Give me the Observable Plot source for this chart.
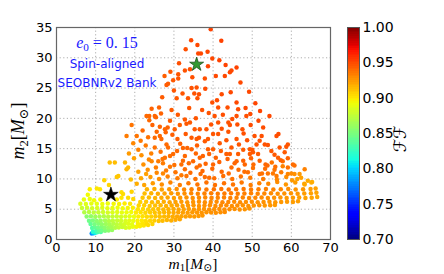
<!DOCTYPE html>
<html><head><meta charset="utf-8">
<script src="https://cdn.jsdelivr.net/npm/d3@7"></script>
<script src="https://cdn.jsdelivr.net/npm/@observablehq/plot@0.6"></script>
<style>
body{margin:0;background:#fff;}
#wrap{position:relative;width:444px;height:274px;}
#wrap svg{position:absolute;left:0;top:0;}
</style></head><body><div id="wrap"></div>
<script>
const xTicks=[0,10,20,30,40,50,60,70];
const yTicks=[0,5,10,15,20,25,30,35];
const ffTicks=[0.70,0.75,0.80,0.85,0.90,0.95,1.00];

// [m1, m2, FF]
const lowMass=[
[9.0,1.0,.78],[9.5,1.05,.79],[9.9,1.1,.81],[9.3,1.3,.82],
[10.4,1.2,.83],[11.3,1.25,.835],[10.2,1.5,.83],[10.9,1.45,.84],[11.6,1.5,.845],[12.4,1.45,.85],[13.3,1.5,.855],[14.2,1.55,.86],
[9.1,1.9,.835],[9.8,2.0,.84],[10.6,1.95,.845],[11.5,2.05,.85],[12.3,1.95,.855],[13.2,2.0,.86],[14.1,2.05,.865],[15.0,1.95,.87],[15.9,2.0,.875],[16.8,2.05,.878],[17.7,1.95,.882],[18.6,2.0,.886],[19.5,2.1,.89],
[8.7,2.55,.84],[9.7,2.5,.848],[10.7,2.6,.852],[11.6,2.5,.857],[12.6,2.55,.862],[13.5,2.5,.866],[14.5,2.6,.87],[15.4,2.5,.874],[16.4,2.55,.878],[17.3,2.5,.882],[18.3,2.6,.886],[19.3,2.5,.889],
[8.3,3.1,.845],[9.3,3.15,.85],[10.3,3.05,.855],[11.3,3.1,.86],[12.4,3.15,.865],[13.4,3.05,.87],[14.4,3.1,.874],[15.5,3.15,.877],[16.5,3.1,.88],[17.6,3.05,.884],[18.6,3.15,.887],[19.6,3.1,.89],
[7.7,3.8,.855],[8.8,3.85,.858],[9.9,3.75,.862],[11.0,3.8,.866],[12.1,3.85,.87],[13.2,3.75,.873],[14.3,3.8,.876],[15.4,3.85,.879],[16.5,3.75,.882],[17.6,3.8,.885],[18.7,3.85,.888],[19.8,3.8,.891],
[7.1,4.5,.87],[8.3,4.55,.872],[9.5,4.45,.874],[10.7,4.5,.877],[11.9,4.55,.88],[13.1,4.45,.882],[14.3,4.5,.885],[15.5,4.55,.887],[16.7,4.45,.889],[17.9,4.5,.891],[19.1,4.55,.893],
[6.5,5.2,.878],[7.8,5.25,.88],[9.1,5.15,.882],[10.4,5.2,.884],[11.7,5.25,.886],[13.0,5.15,.888],[14.3,5.2,.89],[15.6,5.25,.891],[16.9,5.15,.893],[18.2,5.2,.895],[19.5,5.25,.897],
[6.1,5.9,.885],[7.5,5.85,.886],[8.9,5.95,.888],[10.3,5.9,.889],[11.7,5.85,.891],[13.1,5.95,.892],[14.6,5.9,.894],[16.0,5.85,.896],[17.4,5.95,.898],[18.8,5.9,.9],
[7.0,6.6,.89],[8.5,6.7,.892],[9.6,6.5,.893],[11.2,6.6,.895],[15.4,6.6,.898],[16.6,6.9,.9],[18.3,6.9,.903],[19.6,6.7,.905],
[8.0,7.4,.893],[8.5,8.3,.897],[10.3,8.4,.9],[11.1,8.3,.9],[16.6,7.8,.902],[17.0,7.5,.903],[19.2,7.9,.906],
[13.4,9.0,.905],[12.2,9.8,.906],[15.4,10.3,.91],[15.8,10.5,.91],[19.0,9.9,.912],[17.9,11.6,.915],[18.3,11.9,.915],[17.5,12.7,.915],[13.6,12.7,.912],[14.9,12.7,.913]
];

const denseBand=[
[20.4,2.1,.895],[21.3,2.2,.897],[22.3,2.3,.9],[23.4,2.4,.903],[24.5,2.55,.906],[20.8,2.6,.897],[21.9,2.65,.9],[23.0,2.7,.903],
[20.7,3.1,.896],[21.8,3.15,.899],[22.8,3.05,.902],[23.9,3.1,.905],[25.0,3.15,.908],[26.1,3.05,.911],[27.1,3.1,.913],[28.2,3.2,.915],[29.3,3.15,.917],[30.4,3.25,.919],[31.5,3.35,.92],
[20.9,3.8,.898],[22.0,3.85,.901],[23.1,3.75,.904],[24.2,3.8,.907],[25.3,3.85,.91],[26.4,3.75,.912],[27.5,3.8,.914],[28.6,3.85,.916],[29.7,3.75,.918],[30.8,3.8,.92],[31.9,3.85,.921],[33.0,3.8,.922],[34.1,3.85,.923],[35.2,3.8,.924],[36.3,3.9,.924],[37.3,3.95,.925],
[20.3,4.45,.899],[21.5,4.5,.902],[22.7,4.4,.905],[23.9,4.5,.908],[25.1,4.45,.911],[26.3,4.4,.913],[27.5,4.5,.915],[28.7,4.45,.917],[29.9,4.4,.919],[31.1,4.5,.921],[32.3,4.45,.922],[33.5,4.4,.923],[34.7,4.5,.924],[35.9,4.45,.925],[37.1,4.4,.926],[38.3,4.5,.926],[39.5,4.45,.927],[40.7,4.4,.927],[41.9,4.5,.927],[43.0,4.55,.928],
[20.8,5.0,.901],[22.1,5.05,.904],[23.4,4.95,.907],[24.7,5.0,.91],[26.0,5.05,.913],[27.3,4.95,.915],[28.6,5.0,.917],[29.9,5.05,.919],[31.2,4.95,.921],[32.5,5.0,.922],[33.8,5.05,.923],[35.1,4.95,.925],[36.4,5.0,.925],[37.7,5.05,.926],[39.0,4.95,.927],[40.3,5.0,.927],[41.6,5.05,.928],[42.9,4.95,.928],[44.2,5.0,.928],[45.5,5.05,.927],[46.8,4.95,.927],[48.1,5.0,.926],[49.3,5.1,.926],
[21.0,5.6,.905],[22.4,5.65,.907],[23.8,5.55,.91],[25.2,5.6,.912],[26.6,5.65,.915],[28.0,5.55,.917],[29.4,5.6,.919],[30.8,5.65,.921],[32.2,5.55,.923],[33.6,5.6,.924],[35.0,5.65,.925],[36.4,5.55,.926],[37.8,5.6,.927],[39.2,5.65,.928],[40.6,5.55,.928],[42.0,5.6,.929],[43.4,5.65,.929],[44.8,5.55,.928],[46.2,5.6,.928],[47.6,5.65,.927],[49.0,5.55,.927],[50.4,5.6,.926],[51.8,5.65,.926],[53.2,5.6,.925],[54.6,5.65,.925],[55.8,5.7,.924],
[21.4,6.2,.907],[22.9,6.25,.91],[24.4,6.15,.913],[25.9,6.2,.915],[27.4,6.25,.918],[28.9,6.15,.92],[30.4,6.2,.922],[31.9,6.25,.924],[33.4,6.15,.925],[34.9,6.2,.926],[36.4,6.25,.927],[37.9,6.15,.928],[39.4,6.2,.929],[40.9,6.25,.929],[42.4,6.15,.93],[43.9,6.2,.93],[45.4,6.25,.929],[46.9,6.15,.929],[48.4,6.2,.928],[49.9,6.25,.928],[51.4,6.15,.927],[52.9,6.2,.927],[54.4,6.25,.926],[55.9,6.15,.925],[57.4,6.2,.925],[58.9,6.25,.924],[60.4,6.2,.923],[61.7,6.3,.923],
[22.0,6.9,.91],[23.6,6.95,.913],[25.2,6.85,.916],[26.8,6.9,.919],[28.4,6.95,.921],[30.0,6.85,.923],[31.6,6.9,.925],[33.2,6.95,.927],[34.8,6.85,.928],[36.4,6.9,.929],[38.0,6.95,.93],[39.6,6.85,.931],[41.2,6.9,.931],[42.8,6.95,.932],[44.4,6.85,.932],[46.0,6.9,.931],[47.6,6.95,.931],[49.2,6.85,.93],[50.8,6.9,.93],[52.4,6.95,.929],[54.0,6.85,.928],[55.6,6.9,.927],[57.2,6.95,.926],[58.8,6.85,.925],[60.4,6.9,.924],[62.0,6.95,.923],[63.6,6.85,.922],[65.2,6.9,.921],[66.6,7.0,.92],
[22.5,7.6,.913],[24.2,7.65,.916],[25.9,7.55,.919],[27.6,7.6,.922],[29.3,7.65,.924],[31.0,7.55,.926],[32.7,7.6,.928],[34.4,7.65,.93],[36.1,7.55,.931],[37.8,7.6,.932],[39.5,7.65,.933],[41.2,7.55,.934],[42.9,7.6,.934],[44.6,7.65,.934],[46.3,7.55,.933],[48.0,7.6,.933],[49.7,7.65,.932],[51.4,7.55,.931],[53.1,7.6,.93],[54.8,7.65,.929],[56.5,7.55,.928],[58.2,7.6,.927],[59.9,7.65,.926],[61.6,7.55,.925],[63.3,7.6,.923],[65.0,7.65,.922],[66.4,7.7,.921],
[23.1,8.3,.916],[25.0,8.35,.919],[26.9,8.25,.922],[28.8,8.3,.925],[30.7,8.35,.928],[32.6,8.25,.93],[34.5,8.3,.932],[36.4,8.35,.934],[38.3,8.25,.935],[40.2,8.3,.936],[42.1,8.35,.936],[44.0,8.25,.936],[45.9,8.3,.935],[47.8,8.35,.935],[49.7,8.25,.934],[51.6,8.3,.933],[53.5,8.35,.932],[55.4,8.25,.931],[57.3,8.3,.93],[59.2,8.35,.928],[61.1,8.25,.926],[63.0,8.3,.925],[64.9,8.35,.923],[66.2,8.4,.922]
];

const middle=[
[20.5,9.2,.918],[22.4,9.0,.921],[24.6,9.3,.924],[26.9,9.1,.928],[29.1,9.4,.931],[31.5,9.0,.933],[33.7,9.3,.935],[36.0,9.1,.936],[38.3,9.4,.937],[40.5,9.0,.937],[42.8,9.3,.937],[45.1,9.1,.936],[47.3,9.4,.935],[49.6,9.0,.933],[51.8,9.3,.932],[54.1,9.2,.93],[56.4,9.5,.928],[58.6,9.1,.925],[61.0,9.4,.923],[63.3,9.2,.92],[65.3,9.5,.918],
[21.6,10.1,.92],[24.0,10.3,.924],[26.2,10.0,.928],[28.4,10.4,.932],[30.9,10.1,.934],[33.2,10.5,.936],[35.5,10.0,.937],[37.9,10.3,.938],[40.3,10.1,.938],[42.6,10.5,.938],[44.9,10.0,.937],[47.1,10.4,.936],[49.5,10.2,.934],[61.5,10.0,.922],[64.2,9.7,.919],[65.1,9.4,.918],[63.4,9.1,.92],
[22.9,10.8,.922],[27.2,10.9,.93],[31.9,10.6,.935],[36.8,10.8,.938],[39.0,10.2,.938],[44.0,10.9,.939],[48.0,11.2,.938],[53.3,11.7,.938],[52.8,10.0,.934],[56.3,9.9,.93],[58.7,10.3,.928],[60.2,9.8,.924],
[20.9,11.2,.922],[23.3,11.5,.927],[25.6,11.0,.93],[28.0,11.4,.934],[30.4,11.1,.936],[32.8,11.6,.938],[34.2,11.0,.939],[37.3,11.3,.94],[39.8,11.7,.94],[42.2,11.2,.94],[46.5,11.5,.939],[50.2,11.8,.937],
[22.2,12.4,.927],[24.3,12.9,.93],[27.2,12.6,.934],[30.1,12.3,.937],[33.8,12.6,.939],[38.1,12.5,.941],[41.6,12.8,.942],[45.5,12.6,.941],[50.3,12.4,.939],[55.0,12.7,.936],[57.8,12.1,.932],
[26.0,12.9,.934],[29.0,12.0,.935],[34.9,12.9,.94],[40.0,12.4,.941],[43.7,13.3,.942],[46.0,12.9,.941],[49.7,13.4,.942],[55.9,12.0,.938],[57.8,12.9,.939],
[19.8,13.4,.922],[21.7,13.9,.927],[23.6,13.2,.93],[20.9,14.8,.932],[22.8,15.5,.934],[24.2,14.2,.932],[21.5,16.3,.935],[23.4,16.9,.937],[19.6,15.9,.93],[18.5,14.2,.924],
[26.6,14.5,.937],[30.8,14.6,.94],[35.6,14.2,.941],[42.0,14.6,.943],[47.7,14.8,.944],[55.7,14.0,.945],
[31.6,15.8,.942],[35.9,15.5,.943],[41.7,15.9,.945],[44.7,15.2,.945],[48.7,16.4,.947],[30.9,16.6,.943],[29.6,17.3,.943],[33.0,17.4,.945],[47.8,17.5,.948],[42.2,18.3,.947],
[25.1,16.8,.939],[26.4,17.1,.94],[26.8,16.6,.94],[34.5,16.8,.944],[35.8,16.6,.944],[36.4,16.8,.945],[37.9,16.2,.944],[38.7,16.6,.945],[43.4,16.4,.946],[46.0,16.6,.946],[46.6,15.7,.946],[51.9,16.3,.947],[51.1,15.7,.946],[53.2,15.7,.947],[54.0,15.6,.947],
[25.1,15.2,.937],[28.1,15.7,.939],[28.5,15.2,.939],[32.3,15.1,.941],[33.4,15.1,.941],[34.5,14.9,.942],[38.7,14.9,.943],[40.0,14.9,.943],[43.4,14.1,.943],[44.3,14.1,.943],[46.4,14.1,.944],[49.4,14.1,.944],[50.2,14.4,.945],
[29.0,13.8,.938],[29.8,14.1,.939],[27.7,13.5,.937],[27.1,13.3,.936],[32.8,13.8,.94],[32.3,13.0,.939],[31.9,12.4,.938],[36.6,13.5,.941],[37.4,13.8,.942],[39.0,14.1,.942],[40.7,13.5,.942],[47.7,13.0,.942],[48.1,12.4,.941],[51.9,13.0,.942],[53.4,12.4,.941],
[25.4,11.9,.933],[35.8,11.9,.938],[36.6,12.2,.939],[44.7,11.9,.939],
[57.0,15.2,.946],[58.7,15.3,.946],[59.1,15.7,.946],[49.4,14.9,.945],[50.0,14.8,.945],[51.5,14.1,.944],[54.9,14.6,.945],[58.3,14.4,.944],[56.6,13.5,.943],[57.3,13.1,.942],[59.1,13.4,.942],
[53.9,12.2,.94],[60.4,12.4,.939],[60.8,12.2,.938],[59.1,11.9,.937],[63.4,11.6,.932],[48.9,11.1,.938],[51.9,10.8,.937],[52.5,10.9,.937],[54.0,10.9,.936],[55.7,11.5,.936],[55.3,10.9,.935],[56.2,10.5,.934],[57.4,11.1,.934],[59.1,10.8,.931],[60.0,10.9,.929],[60.8,10.8,.927],[62.1,10.8,.924],[62.5,10.2,.922]
];

const upperSparse=[
[39.4,34.7,.952],[34.4,32.9,.95],[36.0,32.1,.95],[42.1,32.8,.952],[33.0,31.4,.948],[36.2,30.7,.95],[36.9,30.7,.95],[38.6,31.0,.95],[39.8,29.9,.95],[31.3,29.1,.948],[34.1,28.1,.948],[43.2,28.8,.952],[44.7,27.9,.95],[44.3,27.6,.95],[46.0,28.4,.952],
[38.7,28.6,.951],[41.6,29.6,.952],[34.7,26.8,.948],[32.8,27.9,.947],
[29.1,27.7,.945],[27.6,27.0,.943],[31.1,27.3,.946],[31.1,26.6,.946],[37.9,26.6,.948],[40.7,27.0,.95],[43.0,27.0,.95],[28.5,25.7,.944],[28.1,25.5,.944],[29.8,26.3,.945],[47.0,25.9,.95],[34.5,25.0,.947],[35.8,25.1,.947],
[30.0,24.6,.946],[38.0,24.9,.949],[44.5,24.3,.95],[27.0,23.5,.944],[24.3,21.6,.942],[50.8,22.5,.951],[52.0,21.2,.951],
[32.2,24.1,.946],[35.2,24.1,.947],[36.4,24.0,.948],[36.0,23.3,.947],[33.6,23.3,.946],[30.7,23.3,.945],[39.8,22.6,.948],[41.0,23.0,.949],[46.0,22.6,.95],[49.2,24.4,.95],[42.2,24.0,.949],
[26.2,21.8,.942],[26.7,20.8,.942],[29.4,21.4,.944],[37.2,21.4,.947],[41.3,21.8,.948],[43.7,21.8,.948],[46.4,21.5,.949],[48.3,21.7,.95],[33.9,21.7,.946],[31.0,20.6,.945],
[23.0,20.4,.94],[23.7,20.4,.94],[25.1,20.4,.941],[25.4,20.2,.941],[23.7,19.7,.94],[32.8,19.8,.945],[35.6,20.0,.946],[40.4,20.4,.947],[46.0,20.4,.948],[48.5,20.4,.948],[49.5,20.7,.949],[54.4,20.4,.95],
[38.9,20.9,.947],[42.5,20.6,.948],[44.9,19.9,.948],[39.5,19.0,.947],[46.2,19.0,.948],[49.6,18.9,.949],[51.6,19.6,.95],[52.8,18.5,.949],[29.0,19.6,.944],[24.5,18.9,.942],[22.0,18.0,.94],
[19.2,18.9,.936],[28.4,18.5,.942],[30.2,18.2,.943],[26.4,18.6,.941],[25.6,17.8,.94],[31.5,18.9,.943],[33.2,19.1,.945],[34.1,19.3,.945],[35.3,18.2,.945],[36.6,18.2,.945],[38.3,18.2,.946],
[43.9,19.3,.947],[44.3,18.9,.947],[43.9,17.8,.946],[47.5,18.2,.947],[41.3,19.3,.947],[40.0,17.4,.946],[27.7,18.2,.941],[27.9,17.7,.941],[17.9,17.1,.934],[20.5,17.1,.936],
[52.4,17.1,.948],[56.2,17.1,.948],[56.7,17.4,.949],[50.6,17.1,.947],[41.3,17.4,.946]
];

const blackStar=[{m1:13.9,m2:7.4}];
const greenStar=[{m1:35.8,m2:28.9}];

// matplotlib "jet"
const jetR=[[0,0],[0.35,0],[0.66,1],[0.89,1],[1,0.5]];
const jetG=[[0,0],[0.125,0],[0.375,1],[0.64,1],[0.91,0],[1,0]];
const jetB=[[0,0.5],[0.11,1],[0.34,1],[0.65,0],[1,0]];
function seg(s,t){
  for(let i=1;i<s.length;i++){
    if(t<=s[i][0]){const [x0,y0]=s[i-1],[x1,y1]=s[i];return y0+(y1-y0)*(t-x0)/(x1-x0);}
  }
  return s[s.length-1][1];
}
function jet(t){
  t=Math.max(0,Math.min(1,t));
  return d3.rgb(255*seg(jetR,t),255*seg(jetG,t),255*seg(jetB,t)).formatHex();
}

const points=[...lowMass,...denseBand,...middle,...upperSparse].map(([m1,m2,ff])=>({m1,m2,ff}));
const colorScale={type:"linear",domain:[0.7,1.0],interpolate:jet,clamp:true};
const baseStyle={fontFamily:"DejaVu Sans",fontSize:"13px",background:"transparent",color:"black",overflow:"visible"};

const main=Plot.plot({
  width:444,height:274,marginLeft:56,marginRight:114,marginTop:27,marginBottom:35,
  style:baseStyle,
  x:{domain:[0,70]},
  y:{domain:[0,35]},
  color:colorScale,
  marks:[
    Plot.gridX(xTicks,{stroke:"#999",strokeOpacity:1,strokeDasharray:"1.2,2.4",strokeWidth:0.8}),
    Plot.gridY(yTicks,{stroke:"#999",strokeOpacity:1,strokeDasharray:"1.2,2.4",strokeWidth:0.8}),
    Plot.dot(points,{x:"m1",y:"m2",fill:"ff",r:2.25,stroke:null}),
    Plot.dot(blackStar,{x:"m1",y:"m2",symbol:"star",r:4.6,fill:"black",stroke:"black",strokeWidth:0.6}),
    Plot.dot(greenStar,{x:"m1",y:"m2",symbol:"star",r:4.4,fill:"#339933",stroke:"#114411",strokeWidth:0.7}),
    Plot.frame({stroke:"#666",strokeWidth:1.2}),
    Plot.axisX({ticks:xTicks,tickSize:0,tickPadding:3,label:null,fontSize:13}),
    Plot.axisY({ticks:yTicks,tickSize:0,tickPadding:4,label:null,fontSize:13})
  ]
});

const cbStep=0.0025;
const cbStops=d3.range(0.7,1.0-1e-9,cbStep);
const bar=Plot.plot({
  width:444,height:274,marginLeft:347,marginRight:85,marginTop:27,marginBottom:35,
  style:baseStyle,
  x:{domain:[0,1],axis:null},
  y:{domain:[0.7,1.0]},
  color:colorScale,
  marks:[
    Plot.rect(cbStops,{x1:0,x2:1,y1:d=>d,y2:d=>Math.min(1,d+cbStep*1.3),fill:d=>d+cbStep/2,shapeRendering:"crispEdges"}),
    Plot.frame({stroke:"#555",strokeWidth:1}),
    Plot.axisY({anchor:"right",ticks:ffTicks,tickFormat:d3.format(".2f"),tickSize:0,tickPadding:3,label:null,fontSize:14})
  ]
});

const wrap=document.getElementById("wrap");
wrap.appendChild(main);
wrap.appendChild(bar);

const svg=d3.select(main);
const mathFont="'Liberation Serif','DejaVu Serif',serif";
function mathLabel(sel,parts,size,shift){
  let shifted=false;
  parts.forEach(([txt,it,sub])=>{
    const ts=sel.append("tspan").text(txt);
    if(it) ts.style("font-style","italic");
    if(sub){ts.style("font-size",(size*0.7)+"px"); if(!shifted){ts.attr("dy",size*shift);shifted=true;}}
    else if(shifted){ts.attr("dy",-size*shift);shifted=false;}
  });
}
// x label
const xl=svg.append("text").attr("x",193).attr("y",268.5).attr("text-anchor","middle")
  .style("font-family",mathFont).style("font-size","15.5px").attr("fill","black");
mathLabel(xl,[["m",1,0],["1",0,1],["[",0,0],["M",1,0],["\u2299",0,1],["]",0,0]],15.5,0.15);
// y label
const yl=svg.append("text").attr("transform","translate(24,131) rotate(-90)").attr("text-anchor","middle")
  .style("font-family",mathFont).style("font-size","18px").attr("fill","black");
mathLabel(yl,[["m",1,0],["2",0,1],["[",0,0],["M",1,0],["\u2299",0,1],["]",0,0]],18,0.2);
// annotations
const e0=svg.append("text").attr("x",107).attr("y",48).attr("text-anchor","middle")
  .style("font-family",mathFont).style("font-size","16px").attr("fill","#1a1aff");
mathLabel(e0,[["e",1,0],["0",0,1],[" = 0. 15",0,0]],16,0.2);
svg.append("text").attr("x",107).attr("y",68).attr("text-anchor","middle")
  .style("font-family","DejaVu Sans").style("font-size","12px").attr("fill","#1a1aff").text("Spin-aligned");
svg.append("text").attr("x",107).attr("y",87).attr("text-anchor","middle")
  .style("font-family","DejaVu Sans").style("font-size","12px").attr("fill","#1a1aff").text("SEOBNRv2 Bank");
// colorbar label
d3.select(bar).append("text").attr("transform","translate(400,139) rotate(-90)").attr("text-anchor","middle")
  .attr("dominant-baseline","central").style("font-family","'DejaVu Sans',sans-serif")
  .style("font-size","17px").attr("fill","black").text("\u2131\u2131");
</script></body></html>
